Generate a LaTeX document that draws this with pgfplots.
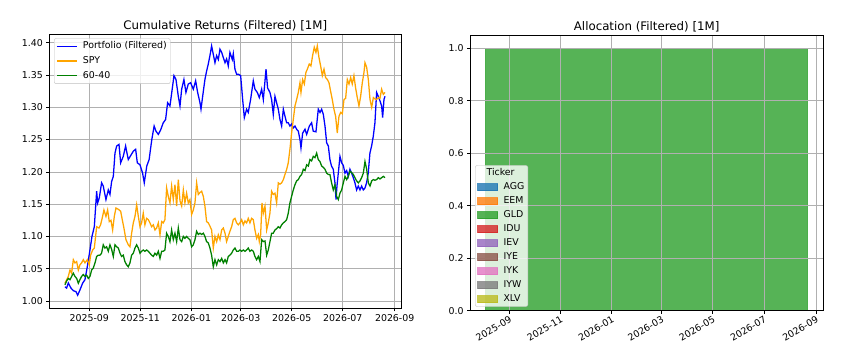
\documentclass[border=0pt]{standalone}
\usepackage{fontspec}
\setmainfont{DejaVu Sans}
\usepackage{pgfplots}
\pgfplotsset{compat=1.18}
\definecolor{gridc}{HTML}{B0B0B0}
\definecolor{mplblue}{HTML}{0000FF}
\definecolor{mplorange}{HTML}{FFA500}
\definecolor{mplgreen}{HTML}{008000}
\definecolor{t1}{HTML}{1F77B4}
\definecolor{t2}{HTML}{FF7F0E}
\definecolor{t3}{HTML}{2CA02C}
\definecolor{t4}{HTML}{D62728}
\definecolor{t5}{HTML}{9467BD}
\definecolor{t6}{HTML}{8C564B}
\definecolor{t7}{HTML}{E377C2}
\definecolor{t8}{HTML}{7F7F7F}
\definecolor{t9}{HTML}{BCBD22}
\pgfplotsset{
  every axis title/.style={at={(0.5,1)}, anchor=south, yshift=3bp, inner sep=0pt, font=\fontsize{11.8bp}{14bp}\selectfont},
  common/.style={
    scale only axis,
    axis line style={black, line width=0.68bp},
    grid=major,
    major grid style={gridc, line width=0.68bp},
    tick align=outside,
    major tick length=3bp,
    tick style={black, line width=0.68bp},
    tick pos=left,
    ticklabel style={font=\fontsize{9.4bp}{11bp}\selectfont},
    /pgf/number format/assume math mode=true,
    xtick={0,61,122,181,242,303,365},
    xticklabels={2025-09,2025-11,2026-01,2026-03,2026-05,2026-07,2026-09},
  }
}
\begin{document}
\begin{tikzpicture}
\useasboundingbox (0,0) rectangle (859bp,355bp);
\begin{axis}[common,
  at={(49.3bp,46.7bp)}, anchor=south west,
  width=352bp, height=274.3bp,
  xmin=-47.8, xmax=372.9, ymin=0.9887, ymax=1.4135,
  ytick={1.00,1.05,1.10,1.15,1.20,1.25,1.30,1.35,1.40},
  yticklabel style={/pgf/number format/.cd, fixed, fixed zerofill, precision=2},
  title={Cumulative Returns (Filtered) [1M]},
  legend cell align=left,
  legend image code/.code={\draw[#1, line width=1.28bp] (0bp,0bp) -- (20bp,0bp);},
  legend style={at={(0,1)}, anchor=north west, xshift=4.7bp, yshift=-4.3bp,
    draw=black!25, rounded corners=2bp, fill=white, fill opacity=0.8, draw opacity=1, text opacity=1,
    font=\fontsize{9.4bp}{11bp}\selectfont, inner xsep=2bp, inner ysep=2bp, row sep=2.6bp, column sep=4bp,
    nodes={inner sep=1.5bp, text height=7bp, text depth=2bp}},
]
\addplot[mplblue, line width=1.28bp] coordinates {
(-29.1,1.022) (-27.1,1.020) (-25.1,1.028) (-21.9,1.020) (-19.1,1.016) (-15.9,1.0145) (-13.9,1.009) (-11.2,1.017) (-8.0,1.0275) (-5.2,1.033) (-2.4,1.053) (0.8,1.079) (3.2,1.100) (6.0,1.115) (8.8,1.170) (10.0,1.152) (12.0,1.160) (14.7,1.183) (16.7,1.178) (19.9,1.157) (22.7,1.172) (24.7,1.165) (26.7,1.185) (28.7,1.193) (30.7,1.229) (32.7,1.240) (35.5,1.2425) (37.5,1.214) (40.6,1.224) (43.4,1.240) (46.6,1.219) (49.8,1.226) (52.6,1.232) (55.4,1.235) (57.4,1.214) (60.6,1.211) (63.7,1.198) (65.7,1.183) (68.7,1.209) (71.5,1.219) (74.7,1.250) (77.5,1.271) (79.7,1.263) (82.5,1.258) (85.3,1.265) (88.4,1.276) (91.2,1.281) (93.6,1.307) (96.4,1.302) (99.6,1.333) (101.2,1.349) (103.6,1.343) (106.4,1.317) (108.4,1.302) (110.4,1.328) (113.1,1.343) (115.5,1.323) (118.3,1.336) (121.1,1.338) (124.3,1.328) (127.1,1.341) (129.5,1.323) (132.3,1.307) (133.5,1.297) (135.5,1.317) (138.2,1.343) (140.2,1.356) (142.2,1.367) (144.2,1.380) (146.2,1.395) (148.2,1.382) (150.2,1.369) (152.2,1.380) (154.2,1.374) (156.2,1.390) (158.2,1.385) (160.2,1.377) (162.2,1.369) (164.1,1.375) (166.1,1.364) (168.1,1.385) (170.9,1.374) (172.1,1.383) (174.1,1.359) (176.1,1.351) (178.5,1.351) (180.9,1.349) (183.3,1.312) (185.3,1.284) (188.0,1.297) (190.0,1.292) (192.8,1.312) (196.0,1.341) (198.0,1.328) (200.8,1.323) (203.2,1.315) (206.0,1.328) (208.0,1.312) (210.0,1.341) (211.2,1.359) (213.1,1.330) (215.9,1.323) (217.9,1.312) (219.9,1.289) (221.9,1.317) (223.9,1.307) (225.9,1.297) (227.9,1.281) (229.9,1.271) (231.9,1.297) (233.9,1.286) (235.9,1.276) (237.8,1.276) (239.8,1.271) (241.8,1.274) (243.8,1.268) (245.8,1.271) (247.8,1.266) (249.8,1.263) (251.8,1.250) (253.0,1.237) (255.0,1.260) (257.8,1.266) (259.8,1.258) (263.0,1.271) (265.7,1.276) (267.7,1.263) (270.9,1.262) (273.7,1.297) (275.7,1.292) (277.7,1.297) (279.7,1.289) (281.7,1.271) (283.7,1.245) (285.7,1.240) (287.6,1.219) (289.5,1.209) (291.6,1.204) (293.6,1.183) (294.9,1.157) (296.0,1.178) (297.6,1.198) (299.6,1.224) (301.6,1.214) (303.6,1.210) (305.6,1.198) (307.6,1.202) (309.5,1.193) (311.5,1.204) (313.5,1.198) (315.5,1.191) (317.5,1.183) (319.5,1.172) (321.5,1.178) (323.5,1.172) (325.5,1.178) (327.5,1.172) (329.5,1.175) (331.4,1.183) (333.4,1.198) (335.4,1.229) (337.4,1.240) (339.4,1.255) (341.4,1.276) (343.4,1.323) (345.4,1.317) (347.4,1.310) (349.4,1.302) (350.6,1.284) (352.2,1.312) (353.4,1.317)
};
\addlegendentry{Portfolio (Filtered)}
\addplot[mplorange, line width=1.28bp] coordinates {
(-29.1,1.0275) (-27.1,1.033) (-25.1,1.038) (-23.1,1.048) (-21.1,1.043) (-19.1,1.064) (-17.1,1.059) (-15.1,1.061) (-13.1,1.048) (-11.2,1.056) (-9.2,1.059) (-7.2,1.064) (-5.2,1.059) (-2.4,1.064) (0,1.056) (1.6,1.071) (4.0,1.079) (6.0,1.082) (8.8,1.115) (11.6,1.113) (13.5,1.118) (15.9,1.131) (17.5,1.141) (19.9,1.131) (21.9,1.141) (23.9,1.123) (25.9,1.125) (27.9,1.110) (29.9,1.131) (31.9,1.144) (34.7,1.142) (37.5,1.139) (39.4,1.126) (41.4,1.113) (43.8,1.095) (46.6,1.087) (48.6,1.084) (50.6,1.105) (52.6,1.121) (54.6,1.131) (56.6,1.149) (58.6,1.131) (60.6,1.115) (62.5,1.121) (64.5,1.136) (66.5,1.118) (68.5,1.128) (70.5,1.126) (72.5,1.121) (74.5,1.115) (76.5,1.118) (78.5,1.110) (80.5,1.113) (82.5,1.121) (84.5,1.1025) (86.5,1.123) (88.4,1.121) (90.4,1.126) (92.4,1.175) (94.4,1.162) (96.4,1.152) (98.4,1.178) (100.4,1.157) (102.4,1.180) (104.4,1.147) (106.4,1.188) (108.4,1.155) (110.4,1.147) (112.4,1.172) (114.3,1.152) (116.3,1.167) (118.3,1.152) (120.3,1.157) (122.3,1.134) (124.3,1.141) (126.3,1.152) (128.3,1.183) (130.3,1.165) (132.3,1.168) (134.3,1.170) (136.3,1.162) (138.2,1.147) (140.2,1.123) (142.2,1.121) (144.2,1.116) (146.2,1.110) (148.2,1.082) (150.2,1.100) (152.2,1.092) (154.2,1.1025) (156.2,1.095) (158.2,1.110) (160.2,1.113) (162.2,1.105) (164.1,1.092) (166.1,1.100) (168.1,1.108) (170.1,1.115) (172.1,1.126) (174.1,1.128) (176.1,1.121) (178.1,1.118) (180.1,1.121) (182.1,1.126) (184.1,1.118) (186.1,1.124) (188.0,1.121) (190.0,1.128) (192.0,1.121) (194.0,1.128) (196.0,1.126) (198.0,1.110) (200.0,1.097) (202.0,1.103) (203.2,1.092) (204.8,1.103) (206.4,1.152) (208.0,1.136) (210.0,1.147) (212.0,1.110) (213.9,1.121) (215.9,1.136) (217.9,1.170) (219.9,1.165) (221.9,1.167) (223.9,1.152) (225.9,1.183) (227.9,1.181) (229.9,1.183) (231.9,1.188) (233.9,1.196) (235.9,1.204) (237.8,1.214) (239.8,1.235) (241.8,1.260) (243.8,1.281) (245.8,1.302) (247.8,1.312) (249.8,1.323) (251.8,1.338) (253.0,1.323) (255.0,1.343) (257.0,1.336) (258.9,1.354) (260.6,1.359) (262.9,1.367) (264.9,1.364) (266.9,1.380) (268.9,1.393) (270.9,1.385) (272.5,1.395) (274.5,1.377) (276.5,1.364) (278.5,1.349) (280.5,1.359) (282.5,1.346) (284.5,1.343) (286.5,1.338) (288.4,1.325) (290.4,1.312) (292.4,1.297) (294.4,1.286) (296.4,1.260) (298.4,1.286) (300.4,1.292) (302.4,1.290) (304.4,1.312) (306.4,1.314) (308.4,1.343) (310.4,1.336) (312.4,1.346) (314.3,1.336) (316.3,1.349) (318.3,1.330) (320.3,1.315) (322.3,1.302) (324.3,1.317) (326.3,1.338) (328.3,1.354) (329.5,1.369) (331.5,1.362) (333.5,1.343) (335.5,1.312) (337.5,1.300) (339.5,1.315) (341.4,1.313) (343.4,1.312) (345.4,1.315) (347.4,1.314) (349.4,1.328) (351.4,1.320) (353.4,1.323)
};
\addlegendentry{SPY}
\addplot[mplgreen, line width=1.28bp] coordinates {
(-29.1,1.025) (-27.1,1.031) (-25.1,1.035) (-23.1,1.033) (-21.1,1.038) (-19.1,1.043) (-17.1,1.038) (-15.1,1.035) (-13.1,1.0275) (-11.2,1.033) (-9.2,1.038) (-7.2,1.041) (-5.2,1.038) (-3.2,1.040) (-1.2,1.035) (0.8,1.038) (2.8,1.048) (4.8,1.051) (6.8,1.059) (8.8,1.069) (10.8,1.071) (12.7,1.071) (14.7,1.074) (16.7,1.087) (18.7,1.082) (20.7,1.084) (22.7,1.077) (24.7,1.087) (26.7,1.080) (28.7,1.069) (30.7,1.087) (32.7,1.084) (34.7,1.082) (36.7,1.074) (38.6,1.069) (40.6,1.071) (42.6,1.061) (44.6,1.056) (46.6,1.053) (48.6,1.059) (50.6,1.071) (52.6,1.074) (54.6,1.082) (56.6,1.087) (58.6,1.082) (60.6,1.074) (62.5,1.077) (64.5,1.079) (66.5,1.077) (68.5,1.079) (70.5,1.077) (72.5,1.074) (74.5,1.071) (76.5,1.069) (78.5,1.074) (80.5,1.071) (82.5,1.077) (84.5,1.066) (86.5,1.077) (88.4,1.077) (90.4,1.079) (92.4,1.105) (94.4,1.100) (96.4,1.092) (98.4,1.110) (100.4,1.095) (102.4,1.105) (104.4,1.092) (106.4,1.113) (108.4,1.095) (110.4,1.092) (112.4,1.100) (114.3,1.097) (116.3,1.100) (118.3,1.097) (120.3,1.095) (122.3,1.084) (124.3,1.087) (126.3,1.095) (128.3,1.108) (130.3,1.103) (132.3,1.105) (134.3,1.103) (136.3,1.105) (138.2,1.100) (140.2,1.092) (142.2,1.090) (144.2,1.082) (146.2,1.071) (148.2,1.053) (150.2,1.064) (152.2,1.056) (154.2,1.064) (156.2,1.061) (158.2,1.066) (160.2,1.059) (162.2,1.064) (164.1,1.059) (166.1,1.069) (168.1,1.071) (170.1,1.074) (172.1,1.079) (174.1,1.082) (176.1,1.077) (178.1,1.077) (180.1,1.079) (182.1,1.077) (184.1,1.079) (186.1,1.077) (188.0,1.079) (190.0,1.082) (192.0,1.077) (194.0,1.079) (196.0,1.077) (198.0,1.069) (200.0,1.064) (202.0,1.069) (204.0,1.061) (206.0,1.095) (208.0,1.092) (210.0,1.093) (212.0,1.071) (213.9,1.079) (215.9,1.092) (217.9,1.105) (219.9,1.105) (221.9,1.110) (223.9,1.112) (225.9,1.115) (227.9,1.113) (229.9,1.118) (231.9,1.121) (233.9,1.123) (235.9,1.126) (237.8,1.136) (239.8,1.152) (241.8,1.162) (243.8,1.172) (245.8,1.180) (247.8,1.186) (249.8,1.188) (251.8,1.193) (253.8,1.196) (255.8,1.204) (257.8,1.202) (259.8,1.211) (261.8,1.209) (263.7,1.219) (265.7,1.217) (267.7,1.224) (269.7,1.222) (271.7,1.229) (273.7,1.219) (275.7,1.216) (277.7,1.209) (279.7,1.207) (281.7,1.204) (283.7,1.198) (285.7,1.196) (287.6,1.196) (289.6,1.183) (291.6,1.172) (293.6,1.180) (295.6,1.162) (297.6,1.157) (299.6,1.167) (301.6,1.172) (303.6,1.183) (305.6,1.193) (307.6,1.188) (309.5,1.193) (311.5,1.201) (313.5,1.199) (315.5,1.196) (317.5,1.191) (319.5,1.186) (321.5,1.183) (323.5,1.186) (325.5,1.191) (327.5,1.198) (329.5,1.216) (331.5,1.204) (333.5,1.183) (335.5,1.178) (337.5,1.186) (339.5,1.188) (341.4,1.187) (343.4,1.188) (345.4,1.191) (347.4,1.189) (349.4,1.191) (351.4,1.193) (353.4,1.191)
};
\addlegendentry{60-40}
\end{axis}

\begin{axis}[common,
  at={(470bp,44.3bp)}, anchor=south west,
  width=353.3bp, height=275.7bp,
  xmin=-46.8, xmax=373.7, ymin=0, ymax=1.0507,
  axis on top,
  ytick={0,0.2,0.4,0.6,0.8,1.0},
  yticklabel style={/pgf/number format/.cd, fixed, fixed zerofill, precision=1},
  xticklabel style={rotate=30, anchor=north east, inner sep=1bp},
  title={Allocation (Filtered) [1M]},
  stack plots=y,
  legend cell align=left,
  legend image code/.code={\draw[#1, sharp corners] (0bp,-3.5bp) rectangle (20bp,3.5bp);},
  legend style={at={(0,0)}, anchor=south west, xshift=5bp, yshift=4bp,
    draw=black!25, rounded corners=2bp, fill=white, fill opacity=0.8, draw opacity=1, text opacity=1,
    font=\fontsize{9.4bp}{11bp}\selectfont, inner xsep=2bp, inner ysep=1.5bp, row sep=2bp, column sep=4bp,
    nodes={inner sep=1.5bp, text height=7bp, text depth=2bp}},
  area/.style={fill=#1, draw=#1, fill opacity=0.8, draw opacity=0.8, line width=0.85bp},
]
\addlegendimage{empty legend}
\addlegendentry{\hspace*{-17bp}Ticker}
\addplot[area=t1] coordinates {(-28.1,0) (0,0) (61,0) (122,0) (181,0) (242,0) (303,0) (354.6,0)} \closedcycle;
\addlegendentry{AGG}
\addplot[area=t2] coordinates {(-28.1,0) (0,0) (61,0) (122,0) (181,0) (242,0) (303,0) (354.6,0)} \closedcycle;
\addlegendentry{EEM}
\addplot[area=t3] coordinates {(-28.1,1) (0,1) (61,1) (122,1) (181,1) (242,1) (303,1) (354.6,1)} \closedcycle;
\addlegendentry{GLD}
\addplot[area=t4] coordinates {(-28.1,0) (0,0) (61,0) (122,0) (181,0) (242,0) (303,0) (354.6,0)} \closedcycle;
\addlegendentry{IDU}
\addplot[area=t5] coordinates {(-28.1,0) (0,0) (61,0) (122,0) (181,0) (242,0) (303,0) (354.6,0)} \closedcycle;
\addlegendentry{IEV}
\addplot[area=t6] coordinates {(-28.1,0) (0,0) (61,0) (122,0) (181,0) (242,0) (303,0) (354.6,0)} \closedcycle;
\addlegendentry{IYE}
\addplot[area=t7] coordinates {(-28.1,0) (0,0) (61,0) (122,0) (181,0) (242,0) (303,0) (354.6,0)} \closedcycle;
\addlegendentry{IYK}
\addplot[area=t8] coordinates {(-28.1,0) (0,0) (61,0) (122,0) (181,0) (242,0) (303,0) (354.6,0)} \closedcycle;
\addlegendentry{IYW}
\addplot[area=t9] coordinates {(-28.1,0) (0,0) (61,0) (122,0) (181,0) (242,0) (303,0) (354.6,0)} \closedcycle;
\addlegendentry{XLV}
\end{axis}
\end{tikzpicture}
\end{document}
